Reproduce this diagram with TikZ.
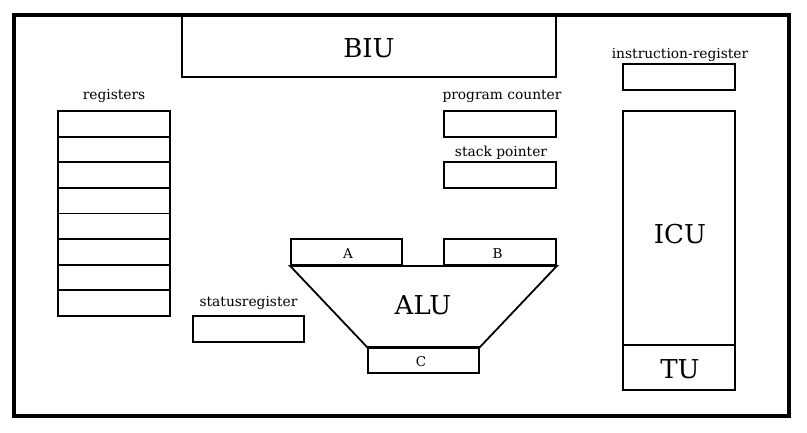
\documentclass[tikz,border=0pt]{standalone}
\usepackage{fontspec}
\setmainfont{DejaVu Serif}
\begin{document}
\begin{tikzpicture}[x=1pt,y=-1pt,
  box/.style={draw,line width=1.8pt,inner sep=0pt,rectangle},
  lbl/.style={font=\fontsize{13.8}{16}\selectfont,anchor=base,inner sep=0pt},
  big/.style={font=\fontsize{26}{30}\selectfont,anchor=base,inner sep=0pt},
  small/.style={font=\fontsize{13.5}{16}\selectfont,anchor=base,inner sep=0pt}]
\useasboundingbox (0,0) rectangle (807,432);
\draw[line width=4pt] (14,15) rectangle (789,416);
% BIU
\node[box,minimum width=374pt,minimum height=62pt] (biu) at (369,46) {};
\node[big] (biut) at (369,57) {BIU};
% registers
\node[lbl] (lreg) at (114,99) {registers};
\foreach \i in {0,...,7}{
  \node[box,minimum width=112pt,minimum height=25.6pt] (r\i) at (114,{123.8+25.6*\i}) {};
}
% program counter, stack pointer
\node[lbl] (lpc) at (502,99) {program counter};
\node[box,minimum width=112pt,minimum height=26pt] (pc) at (500,124) {};
\node[lbl] (lsp) at (501,156) {stack pointer};
\node[box,minimum width=112pt,minimum height=26pt] (sp) at (500,175) {};
% instruction register, ICU, TU
\node[lbl] (lir) at (680,58.5) {instruction-register};
\node[box,minimum width=112pt,minimum height=26pt] (ir) at (679,77) {};
\node[box,minimum width=112pt,minimum height=234pt] (icu) at (679,228) {};
\node[big] (icut) at (680,243) {ICU};
\node[box,minimum width=112pt,minimum height=45pt] (tu) at (679,367.5) {};
\node[big] (tut) at (680,378) {TU};
% status register
\node[lbl] (lst) at (248.5,306.5) {statusregister};
\node[box,minimum width=111pt,minimum height=26pt] (st) at (248.5,329) {};
% ALU
\node[box,minimum width=111pt,minimum height=26pt] (a) at (346.5,252) {};
\node[small] (at) at (348,258) {A};
\node[box,minimum width=112pt,minimum height=26pt] (b) at (500,252) {};
\node[small] (bt) at (497.5,258) {B};
\node[box,minimum width=111pt,minimum height=25pt] (c) at (423.5,360.5) {};
\node[small] (ct) at (421,366) {C};
\draw[line width=1.8pt,line join=miter] (a.south west) -- (b.south east) -- (c.north east) -- (c.north west) -- cycle;
\node[big] (alut) at (423,314) {ALU};
\end{tikzpicture}
\end{document}
